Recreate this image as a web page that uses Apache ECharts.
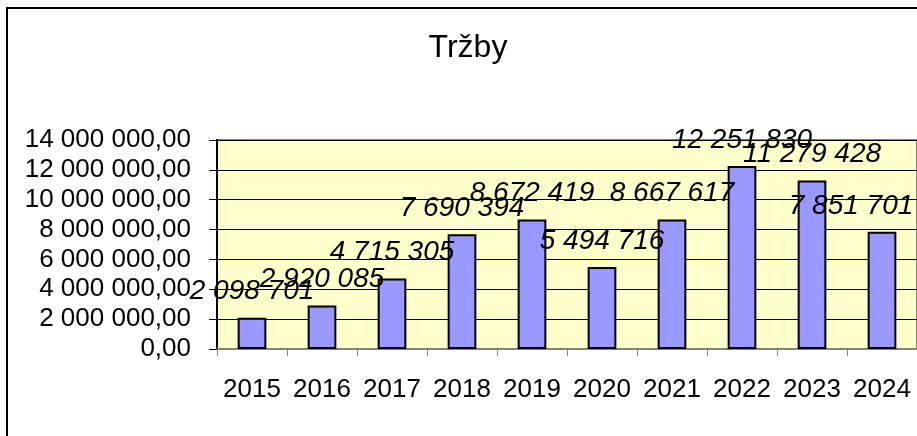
<!DOCTYPE html>
<html>
<head>
<meta charset="utf-8">
<title>Tržby</title>
<script src="https://cdn.jsdelivr.net/npm/echarts@6/dist/echarts.min.js"></script>
<style>
  html, body { margin: 0; padding: 0; background: #fff; }
  #chart { width: 917px; height: 436px; }
</style>
</head>
<body>
<div id="chart"></div>
<script>
// data
var years = ["2015", "2016", "2017", "2018", "2019", "2020", "2021", "2022", "2023", "2024"];
var trzby = [2098701, 2920085, 4715305, 7690394, 8672419, 5494716, 8667617, 12251830, 11279428, 7851701];
var yMax = 14000000;
var yStep = 2000000;

// "12 251 830" style, space as thousands separator
function groupDigits(n) {
  return String(Math.round(n)).replace(/\B(?=(\d{3})+(?!\d))/g, " ");
}

var font = "'Liberation Sans', Arial, sans-serif";

var chart = echarts.init(document.getElementById("chart"));

// last label is pushed left so it stays inside the chart area
var barData = trzby.map(function (v, i) {
  var item = { value: v };
  if (i === trzby.length - 1) {
    item.label = { offset: [-31, 0] };
  }
  return item;
});

var option = {
  animation: false,
  backgroundColor: "#ffffff",
  title: {
    text: "Tržby",
    left: 463,
    top: 27,
    textAlign: "center",
    textStyle: { fontFamily: font, fontSize: 32, fontWeight: "normal", color: "#000" }
  },
  graphic: [
    {
      type: "rect",
      shape: { x: 7, y: 8, width: 1000, height: 1000 },
      style: { fill: "none", stroke: "#000", lineWidth: 2 },
      z: -1
    }
  ],
  grid: {
    left: 217,
    top: 140,
    right: -6,
    bottom: 87,
    show: true,
    backgroundColor: "#FFFFCC",
    borderColor: "#808080",
    borderWidth: 2
  },
  xAxis: {
    type: "category",
    data: years,
    axisLine: { lineStyle: { color: "#808080", width: 2 } },
    axisTick: { show: true, length: 7, lineStyle: { color: "#808080", width: 1 } },
    axisLabel: { interval: 0, margin: 28, fontFamily: font, fontSize: 26, color: "#000" }
  },
  yAxis: {
    type: "value",
    min: 0,
    max: yMax,
    interval: yStep,
    axisLine: { show: true, lineStyle: { color: "#000", width: 2 } },
    axisTick: { show: true, length: 8, lineStyle: { color: "#000", width: 1 } },
    splitLine: { lineStyle: { color: "#000", width: 1 } },
    axisLabel: {
      margin: 26,
      fontFamily: font,
      fontSize: 26,
      color: "#000",
      formatter: function (v) { return groupDigits(v) + ",00"; }
    }
  },
  series: [
    {
      name: "Tržby",
      type: "bar",
      data: barData,
      barWidth: "41%",
      itemStyle: { color: "#9999FF", borderColor: "#000", borderWidth: 2 },
      label: {
        show: true,
        position: "top",
        distance: 12,
        fontFamily: font,
        fontSize: 28,
        fontStyle: "italic",
        color: "#000",
        formatter: function (p) { return groupDigits(p.value); }
      }
    }
  ]
};

chart.setOption(option);
</script>
</body>
</html>
